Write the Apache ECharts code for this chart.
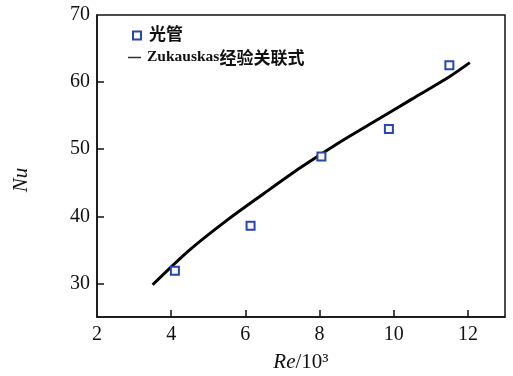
<!DOCTYPE html>
<html><head><meta charset="utf-8">
<script src="https://cdn.jsdelivr.net/npm/echarts@6/dist/echarts.min.js"></script>
<style>html,body{margin:0;padding:0;background:#fff}#c{width:513px;height:376px}</style>
</head><body><div id="c"></div>
<script>
var xTickLabels = [2, 4, 6, 8, 10, 12];
var xTicks = [4, 6, 8, 10, 12];
var yTickLabels = [30, 40, 50, 60, 70];
var yTicks = [30, 40, 50, 60];
var measuredRe = [4.1, 6.14, 8.05, 9.87, 11.5];
var measuredNu = [31.9, 38.6, 48.9, 53.0, 62.5];
var corrRe = [3.5, 4.5, 5.5, 6.5, 7.5, 8.5, 9.5, 10.5, 11.5, 12.05];
var corrNu = [29.8, 35.0, 39.4, 43.4, 47.3, 50.9, 54.2, 57.5, 60.8, 62.9];

var serif = "'Liberation Serif','Times New Roman','Noto Sans CJK SC',serif";
var ink = '#111111';
var chart = echarts.init(document.getElementById('c'), null, {renderer: 'canvas'});
chart.setOption({
  backgroundColor: '#ffffff',
  animation: false,
  grid: {left: 97, top: 15, right: 8, bottom: 59, outerBoundsMode: 'none', containLabel: false, show: true, borderColor: ink, borderWidth: 1.5, backgroundColor: 'transparent'},
  xAxis: {
    type: 'value', min: 2, max: 13,
    name: '{i|Re}/10³', nameLocation: 'middle', nameGap: 35,
    nameTextStyle: {fontFamily: serif, fontSize: 21, color: ink, rich: {i: {fontStyle: 'italic', fontFamily: serif, fontSize: 21, color: ink}}},
    axisLine: {show: true, lineStyle: {color: ink, width: 1.5}},
    axisTick: {show: true, inside: true, length: 7, customValues: xTicks, lineStyle: {color: ink, width: 1.5}},
    axisLabel: {customValues: xTickLabels, fontFamily: serif, fontSize: 20, color: ink, margin: 8},
    splitLine: {show: false}
  },
  yAxis: {
    type: 'value', min: 25, max: 70,
    name: 'Nu', nameLocation: 'middle', nameGap: 65,
    nameTextStyle: {fontFamily: serif, fontStyle: 'italic', fontSize: 21, color: ink, padding: [0, 28, 0, 0]},
    axisLine: {show: true, lineStyle: {color: ink, width: 1.5}},
    axisTick: {show: true, inside: true, length: 7, customValues: yTicks, lineStyle: {color: ink, width: 1.5}},
    axisLabel: {customValues: yTickLabels, fontFamily: serif, fontSize: 20, color: ink, margin: 7},
    splitLine: {show: false}
  },
  legend: [
    {
      data: [{name: '光管', icon: 'rect', itemStyle: {color: '#ffffff', borderColor: '#2747b0', borderWidth: 2}}],
      left: 127, top: 22, itemWidth: 8, itemHeight: 8, orient: 'vertical',
      textStyle: {fontFamily: serif, fontSize: 17, fontWeight: 'bold', color: ink, padding: [0, 0, 0, 3]},
      selectedMode: false
    },
    {
      data: [{name: 'Zukauskas经验关联式', icon: 'rect', itemStyle: {color: '#333333', borderWidth: 0}}],
      left: 123, top: 44, itemWidth: 13, itemHeight: 1.5, orient: 'vertical',
      formatter: function () { return '{a|Zukauskas}{b|经验关联式}'; },
      textStyle: {fontFamily: serif, color: ink, padding: [0, 0, 0, 1], rich: {
        a: {fontFamily: serif, fontSize: 15.5, fontWeight: 'bold', color: ink},
        b: {fontFamily: "'Noto Sans CJK SC',sans-serif", fontSize: 17, fontWeight: 'bold', color: ink}
      }},
      selectedMode: false
    }
  ],
  series: [
    {
      name: 'Zukauskas经验关联式', type: 'line', smooth: 0.3, symbol: 'none',
      lineStyle: {color: '#000000', width: 3},
      data: corrRe.map(function (x, i) { return [x, corrNu[i]]; }),
      z: 2
    },
    {
      name: '光管', type: 'scatter', symbol: 'rect', symbolSize: 8,
      itemStyle: {color: '#fbf7fb', borderColor: '#2747b0', borderWidth: 2, opacity: 1},
      data: measuredRe.map(function (x, i) { return [x, measuredNu[i]]; }),
      z: 3
    }
  ]
});
</script></body></html>
